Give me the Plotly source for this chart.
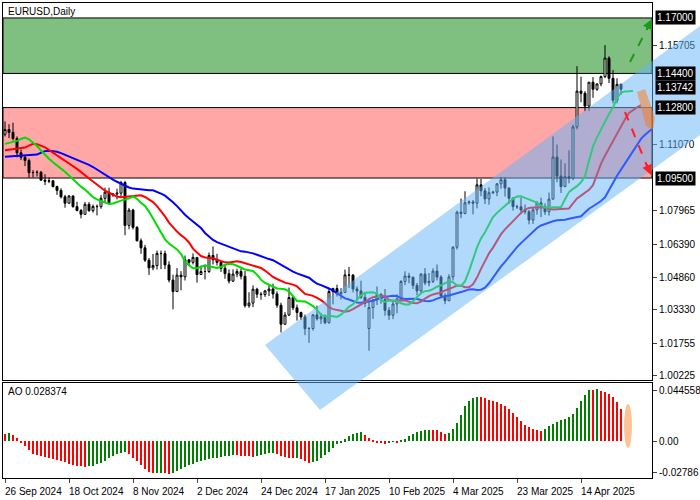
import plotly.graph_objects as go

dates = ["2024-09-26","2024-09-27","2024-09-30","2024-10-01","2024-10-02","2024-10-03","2024-10-04","2024-10-07","2024-10-08","2024-10-09","2024-10-10","2024-10-11","2024-10-14","2024-10-15","2024-10-16","2024-10-17","2024-10-18","2024-10-21","2024-10-22","2024-10-23","2024-10-24","2024-10-25","2024-10-28","2024-10-29","2024-10-30","2024-10-31","2024-11-01","2024-11-03","2024-11-04","2024-11-05","2024-11-06","2024-11-07","2024-11-08","2024-11-11","2024-11-12","2024-11-13","2024-11-14","2024-11-15","2024-11-18","2024-11-19","2024-11-20","2024-11-21","2024-11-22","2024-11-25","2024-11-26","2024-11-27","2024-11-28","2024-11-29","2024-12-02","2024-12-03","2024-12-04","2024-12-05","2024-12-06","2024-12-09","2024-12-10","2024-12-11","2024-12-12","2024-12-13","2024-12-16","2024-12-17","2024-12-18","2024-12-19","2024-12-20","2024-12-23","2024-12-24","2024-12-26","2024-12-27","2024-12-30","2024-12-31","2025-01-02","2025-01-03","2025-01-06","2025-01-07","2025-01-08","2025-01-09","2025-01-10","2025-01-13","2025-01-14","2025-01-15","2025-01-16","2025-01-17","2025-01-20","2025-01-21","2025-01-22","2025-01-23","2025-01-24","2025-01-27","2025-01-28","2025-01-29","2025-01-30","2025-01-31","2025-02-03","2025-02-04","2025-02-05","2025-02-06","2025-02-07","2025-02-10","2025-02-11","2025-02-12","2025-02-13","2025-02-14","2025-02-17","2025-02-18","2025-02-19","2025-02-20","2025-02-21","2025-02-24","2025-02-25","2025-02-26","2025-02-27","2025-02-28","2025-03-03","2025-03-04","2025-03-05","2025-03-06","2025-03-07","2025-03-09","2025-03-10","2025-03-11","2025-03-12","2025-03-13","2025-03-14","2025-03-16","2025-03-17","2025-03-18","2025-03-19","2025-03-20","2025-03-21","2025-03-23","2025-03-24","2025-03-25","2025-03-26","2025-03-27","2025-03-28","2025-03-31","2025-04-01","2025-04-02","2025-04-03","2025-04-04","2025-04-07","2025-04-08","2025-04-09","2025-04-10","2025-04-11","2025-04-14","2025-04-15","2025-04-16","2025-04-17","2025-04-18","2025-04-20","2025-04-21","2025-04-22","2025-04-23","2025-04-24","2025-04-25"]

opens = [1.1155,1.1177,1.1164,1.1135,1.1068,1.1047,1.1032,1.0975,1.0976,1.0977,1.0940,1.0935,1.0937,1.0910,1.0892,1.0862,1.0832,1.0866,1.0816,1.0798,1.0780,1.0827,1.0797,1.0817,1.0816,1.0855,1.0884,1.0870,1.0875,1.0879,1.0929,1.0728,1.0800,1.0719,1.0656,1.0623,1.0565,1.0529,1.0540,1.0597,1.0596,1.0543,1.0472,1.0418,1.0495,1.0487,1.0567,1.0555,1.0578,1.0498,1.0512,1.0512,1.0587,1.0567,1.0555,1.0527,1.0502,1.0467,1.0500,1.0512,1.0490,1.0352,1.0364,1.0429,1.0406,1.0404,1.0421,1.0430,1.0407,1.0354,1.0265,1.0308,1.0390,1.0342,1.0320,1.0299,1.0244,1.0245,1.0309,1.0290,1.0300,1.0272,1.0418,1.0432,1.0408,1.0414,1.0496,1.0495,1.0430,1.0421,1.0391,1.0245,1.0343,1.0379,1.0405,1.0381,1.0330,1.0307,1.0360,1.0384,1.0465,1.0491,1.0485,1.0447,1.0421,1.0500,1.0459,1.0466,1.0514,1.0486,1.0397,1.0375,1.0487,1.0626,1.0790,1.0784,1.0834,1.0838,1.0832,1.0918,1.0890,1.0852,1.0881,1.0884,1.0923,1.0942,1.0903,1.0855,1.0816,1.0815,1.0800,1.0792,1.0753,1.0801,1.0834,1.0816,1.0792,1.0851,1.1048,1.0959,1.0910,1.0956,1.0949,1.1189,1.1357,1.1347,1.1287,1.1399,1.1366,1.1391,1.1425,1.1512,1.1417,1.1314,1.1389]
highs = [1.1215,1.1202,1.1209,1.1145,1.1084,1.1058,1.1041,1.0987,1.0986,1.0983,1.0968,1.0952,1.0940,1.0914,1.0902,1.0871,1.0870,1.0868,1.0839,1.0805,1.0838,1.0837,1.0826,1.0826,1.0870,1.0905,1.0905,1.0880,1.0900,1.0937,1.0937,1.0810,1.0806,1.0724,1.0667,1.0637,1.0575,1.0594,1.0610,1.0610,1.0610,1.0560,1.0497,1.0528,1.0514,1.0587,1.0570,1.0597,1.0580,1.0540,1.0545,1.0601,1.0629,1.0595,1.0560,1.0544,1.0522,1.0522,1.0525,1.0526,1.0515,1.0415,1.0447,1.0436,1.0415,1.0426,1.0448,1.0455,1.0419,1.0366,1.0322,1.0437,1.0400,1.0357,1.0324,1.0310,1.0252,1.0311,1.0352,1.0318,1.0311,1.0434,1.0436,1.0450,1.0434,1.0521,1.0533,1.0500,1.0443,1.0469,1.0416,1.0375,1.0383,1.0442,1.0410,1.0430,1.0345,1.0375,1.0405,1.0472,1.0513,1.0506,1.0488,1.0458,1.0505,1.0528,1.0505,1.0527,1.0545,1.0495,1.0411,1.0499,1.0630,1.0797,1.0854,1.0888,1.0845,1.0847,1.0947,1.0946,1.0903,1.0906,1.0890,1.0925,1.0955,1.0953,1.0906,1.0861,1.0825,1.0858,1.0826,1.0801,1.0812,1.0843,1.0858,1.0831,1.0882,1.1145,1.1107,1.1037,1.1019,1.1080,1.1200,1.1474,1.1425,1.1357,1.1400,1.1423,1.1392,1.1430,1.1573,1.1520,1.1456,1.1417,1.1392]
lows = [1.1145,1.1137,1.1126,1.1047,1.1034,1.1006,1.0951,1.0952,1.0957,1.0938,1.0917,1.0926,1.0906,1.0871,1.0854,1.0811,1.0830,1.0811,1.0794,1.0761,1.0777,1.0792,1.0788,1.0775,1.0806,1.0837,1.0829,1.0862,1.0850,1.0860,1.0682,1.0710,1.0709,1.0653,1.0595,1.0557,1.0496,1.0518,1.0521,1.0523,1.0523,1.0461,1.0335,1.0418,1.0424,1.0470,1.0538,1.0545,1.0460,1.0497,1.0475,1.0505,1.0545,1.0540,1.0510,1.0478,1.0456,1.0463,1.0485,1.0475,1.0343,1.0342,1.0345,1.0388,1.0380,1.0393,1.0397,1.0385,1.0342,1.0226,1.0262,1.0303,1.0331,1.0282,1.0285,1.0214,1.0178,1.0235,1.0282,1.0266,1.0265,1.0268,1.0358,1.0395,1.0381,1.0412,1.0435,1.0414,1.0382,1.0384,1.0345,1.0141,1.0290,1.0355,1.0361,1.0305,1.0285,1.0289,1.0316,1.0372,1.0448,1.0457,1.0430,1.0401,1.0410,1.0448,1.0443,1.0458,1.0470,1.0389,1.0359,1.0375,1.0470,1.0615,1.0762,1.0780,1.0825,1.0780,1.0808,1.0865,1.0828,1.0825,1.0875,1.0865,1.0900,1.0863,1.0828,1.0797,1.0805,1.0780,1.0780,1.0733,1.0735,1.0778,1.0767,1.0777,1.0774,1.0850,1.0930,1.0880,1.0907,1.0925,1.0940,1.1178,1.1305,1.1263,1.1265,1.1326,1.1358,1.1380,1.1418,1.1395,1.1300,1.1300,1.1340]
closes = [1.1177,1.1164,1.1135,1.1068,1.1047,1.1032,1.0975,1.0976,1.0977,1.0940,1.0935,1.0937,1.0910,1.0892,1.0862,1.0832,1.0866,1.0816,1.0798,1.0780,1.0827,1.0797,1.0817,1.0816,1.0855,1.0884,1.0834,1.0875,1.0879,1.0929,1.0728,1.0800,1.0719,1.0656,1.0623,1.0565,1.0529,1.0540,1.0597,1.0596,1.0543,1.0472,1.0418,1.0495,1.0487,1.0567,1.0555,1.0578,1.0498,1.0512,1.0512,1.0587,1.0567,1.0555,1.0527,1.0502,1.0467,1.0500,1.0512,1.0490,1.0352,1.0364,1.0429,1.0406,1.0404,1.0421,1.0430,1.0407,1.0354,1.0265,1.0308,1.0390,1.0342,1.0320,1.0299,1.0244,1.0245,1.0309,1.0290,1.0300,1.0272,1.0418,1.0432,1.0408,1.0414,1.0496,1.0495,1.0430,1.0421,1.0391,1.0362,1.0343,1.0379,1.0405,1.0381,1.0330,1.0307,1.0360,1.0384,1.0465,1.0491,1.0485,1.0447,1.0421,1.0500,1.0459,1.0466,1.0514,1.0486,1.0397,1.0375,1.0487,1.0626,1.0790,1.0784,1.0834,1.0838,1.0832,1.0918,1.0890,1.0852,1.0881,1.0884,1.0923,1.0942,1.0903,1.0855,1.0816,1.0815,1.0800,1.0792,1.0753,1.0801,1.0834,1.0816,1.0792,1.0851,1.1048,1.0959,1.0910,1.0956,1.0949,1.1189,1.1357,1.1347,1.1287,1.1399,1.1366,1.1391,1.1425,1.1512,1.1417,1.1314,1.1389,1.1366]

# Awesome Oscillator, in units of 0.001
ao_milli = [6.3,6.3,7.2,4.9,2.3,-0.9,-4.3,-8.1,-10.9,-12.1,-12.9,-13.8,-14.7,-15.5,-16.4,-17.5,-18.7,-19.8,-20.7,-21.6,-22.1,-22.4,-22.1,-21.6,-20.4,-19.0,-17.3,-15.2,-13.2,-11.5,-10.4,-9.8,-11.5,-14.4,-17.8,-21.3,-24.7,-27.3,-28.2,-27.9,-27.6,-28.2,-28.5,-28.2,-26.5,-24.2,-22.4,-21.0,-19.8,-18.7,-17.8,-17.0,-16.1,-15.2,-14.7,-13.8,-13.2,-12.7,-12.1,-12.4,-12.7,-13.2,-13.5,-13.8,-13.2,-12.4,-11.5,-10.6,-10.4,-11.5,-12.7,-13.8,-14.4,-15.0,-14.4,-15.8,-17.8,-19.0,-18.4,-17.3,-15.0,-12.1,-9.2,-5.8,-2.9,-0.9,1.4,4.3,6.3,6.9,7.5,5.2,2.3,0.6,-0.9,-1.4,-2.3,-1.4,-0.6,-0.9,0.3,1.7,4.0,6.3,7.8,8.6,9.5,9.8,9.5,9.5,7.8,6.3,7.2,10.1,15.8,23.0,30.2,35.1,38.0,38.8,38.5,37.4,36.2,35.1,33.9,32.5,30.2,27.9,24.4,21.0,17.3,13.8,12.1,10.9,9.8,8.6,10.9,12.9,15.0,16.7,18.1,19.6,20.7,23.6,28.8,35.1,40.3,44.6,44.6,45.1,43.7,43.1,41.1,38.2,34.5,28.4]

# Alligator starting values read at the left edge
jaw_seed, teeth_seed, lips_seed = 1.1050, 1.1080, 1.1110

tick_dates = ["2024-09-26","2024-10-18","2024-11-08","2024-12-02","2024-12-24","2025-01-17","2025-02-10","2025-03-04","2025-03-23","2025-04-14"]
tick_labels = ["26 Sep 2024","18 Oct 2024","8 Nov 2024","2 Dec 2024","24 Dec 2024","17 Jan 2025","10 Feb 2025","4 Mar 2025","23 Mar 2025","14 Apr 2025"]

price_ticks = [1.15705,1.11070,1.07965,1.06390,1.04860,1.03330,1.01755,1.00225]
boxed_levels = [1.17000,1.14400,1.13742,1.12800,1.09500]
zone_green = (1.1440, 1.1700)
zone_red = (1.0950, 1.1280)
ao_ticks = [0.044558, 0.0, -0.02786]

N = len(closes)
idx = list(range(N))
ao = [v / 1000 for v in ao_milli[-N:]]
ao_x = idx[-len(ao):]

def smma(seed, n):
    out, s = [], seed
    for h, l in zip(highs, lows):
        s = (s * (n - 1) + (h + l) / 2) / n
        out.append(s)
    return out

W0, W1, T, B = 3, 652, 3, 478
XR = (-0.5, 161.75)
def px(x): return (x - W0) / (W1 - W0)
def py(y): return (B - y) / (B - T)
def ix(i): return (i - XR[0]) / (XR[1] - XR[0])

FONT = "Liberation Sans"
fig = go.Figure()
fig.add_trace(go.Candlestick(x=idx, open=opens, high=highs, low=lows, close=closes,
    increasing=dict(line=dict(color="black", width=1), fillcolor="white"),
    decreasing=dict(line=dict(color="black", width=1), fillcolor="black"),
    whiskerwidth=0, xaxis="x", yaxis="y", showlegend=False, hoverinfo="skip"))

for seed, n, sh, col in [(jaw_seed, 13, 8, "#0000ff"), (teeth_seed, 8, 5, "#ff0000"), (lips_seed, 5, 3, "#00dd00")]:
    vals = [seed] + smma(seed, n)
    xs = [0] + [i + sh for i in idx]
    fig.add_trace(go.Scatter(x=xs, y=vals, mode="lines", line=dict(color=col, width=2),
                             xaxis="x", yaxis="y", showlegend=False, hoverinfo="skip"))

cols = ["#ff0000"] + ["#008000" if ao[i] > ao[i-1] else "#ff0000" for i in range(1, len(ao))]
fig.add_trace(go.Bar(x=ao_x, y=ao, marker=dict(color=cols, line=dict(width=0)), width=0.6,
                     xaxis="x2", yaxis="y2", showlegend=False, hoverinfo="skip"))

shapes = []
shapes.append(dict(type="rect", xref="x domain", yref="y", x0=0, x1=1, y0=zone_green[0], y1=zone_green[1],
                   fillcolor="rgba(0,128,0,0.5)", line=dict(color="black", width=1), layer="below"))
shapes.append(dict(type="rect", xref="x domain", yref="y", x0=0, x1=1, y0=zone_red[0], y1=zone_red[1],
                   fillcolor="rgba(255,60,60,0.45)", line=dict(color="black", width=1), layer="below"))
shapes.append(dict(type="path", xref="paper", yref="paper",
    path=f"M {px(265)},{py(345)} L {px(320)},{py(410)} L {px(700)},{py(135)} L {px(700)},{py(26)} Z",
    fillcolor="rgba(100,180,250,0.5)", line=dict(width=0), layer="above"))
shapes.append(dict(type="path", xref="paper", yref="paper",
    path=f"M {px(637)},{py(92)} L {px(645)},{py(89)} L {px(655)},{py(118)} L {px(653)},{py(130)} L {px(646)},{py(126)} Z",
    fillcolor="rgba(255,120,20,0.5)", line=dict(width=0), layer="above"))
shapes.append(dict(type="circle", xref="paper", yref="paper", x0=px(624), x1=px(632), y0=py(448), y1=py(404),
    fillcolor="rgba(255,120,20,0.45)", line=dict(width=0), layer="above"))
shapes.append(dict(type="line", xref="paper", yref="paper", x0=px(630), y0=py(62), x1=px(648), y1=py(27),
                   line=dict(color="#1a9a1a", width=2, dash="dash"), layer="above"))
shapes.append(dict(type="line", xref="paper", yref="paper", x0=px(625), y0=py(112), x1=px(647), y1=py(166),
                   line=dict(color="#ff2020", width=2, dash="dash"), layer="above"))

annots = []
annots.append(dict(xref="paper", yref="paper", x=px(652), y=py(19), ax=-6, ay=12, axref="pixel", ayref="pixel",
                   showarrow=True, arrowhead=2, arrowsize=1, arrowwidth=2, arrowcolor="#1a9a1a", text=""))
annots.append(dict(xref="paper", yref="paper", x=px(651), y=py(175), ax=-5, ay=-12, axref="pixel", ayref="pixel",
                   showarrow=True, arrowhead=2, arrowsize=1, arrowwidth=2, arrowcolor="#ff2020", text=""))
for lv in boxed_levels:
    annots.append(dict(xref="paper", yref="y", x=1.004, y=lv, xanchor="left", yanchor="middle", showarrow=False,
                       text=f"{lv:.5f}", bgcolor="black", font=dict(color="white", size=10, family=FONT),
                       borderpad=1))
annots.append(dict(xref="paper", yref="paper", x=0.005, y=0.998, xanchor="left", yanchor="top", showarrow=False,
                   text="EURUSD,Daily", font=dict(size=10, color="black", family=FONT)))
annots.append(dict(xref="paper", yref="paper", x=0.005, y=py(384), xanchor="left", yanchor="top", showarrow=False,
                   text="AO 0.028374", font=dict(size=10, color="black", family=FONT)))

tick_idx = [dates.index(d) for d in tick_dates]
for ti, lab in zip(tick_idx, tick_labels):
    annots.append(dict(xref="paper", yref="paper", x=max(ix(ti - 0.6), 0.0), y=-0.012, xanchor="left", yanchor="top",
                       showarrow=False, text=lab, font=dict(size=10, color="black", family=FONT)))

fig.update_layout(
    width=700, height=500, margin=dict(l=3, r=48, t=3, b=22, autoexpand=False),
    paper_bgcolor="white", plot_bgcolor="white",
    font=dict(family=FONT, size=10, color="black"),
    shapes=shapes, annotations=annots, bargap=0,
    xaxis=dict(domain=[0, 1], range=list(XR), showticklabels=False, showgrid=False, zeroline=False,
               showline=True, mirror=True, linecolor="black", ticks="", rangeslider=dict(visible=False),
               anchor="y", automargin=False),
    yaxis=dict(domain=[py(380), 1], range=[1.00037, 1.1770], side="right", tickvals=price_ticks,
               ticktext=[f"{v:.5f}" for v in price_ticks], showgrid=False, zeroline=False, showline=True,
               mirror=True, linecolor="black", ticks="outside", ticklen=4, anchor="x", automargin=False),
    xaxis2=dict(domain=[0, 1], range=list(XR), tickvals=tick_idx, showticklabels=False, showgrid=False,
                zeroline=False, showline=True, mirror=True, linecolor="black", ticks="outside", ticklen=4,
                anchor="y2", automargin=False),
    yaxis2=dict(domain=[0, py(383)], range=[-0.0323, 0.0507], side="right", tickvals=ao_ticks,
                ticktext=["0.044558", "0.00", "-0.02786"], showgrid=False, zeroline=False, showline=True,
                mirror=True, linecolor="black", ticks="outside", ticklen=4, anchor="x2", automargin=False),
)
fig.write_html("out.html", config={"displayModeBar": False},
               post_script="document.body.style.margin='0';document.body.style.overflow='hidden';")
